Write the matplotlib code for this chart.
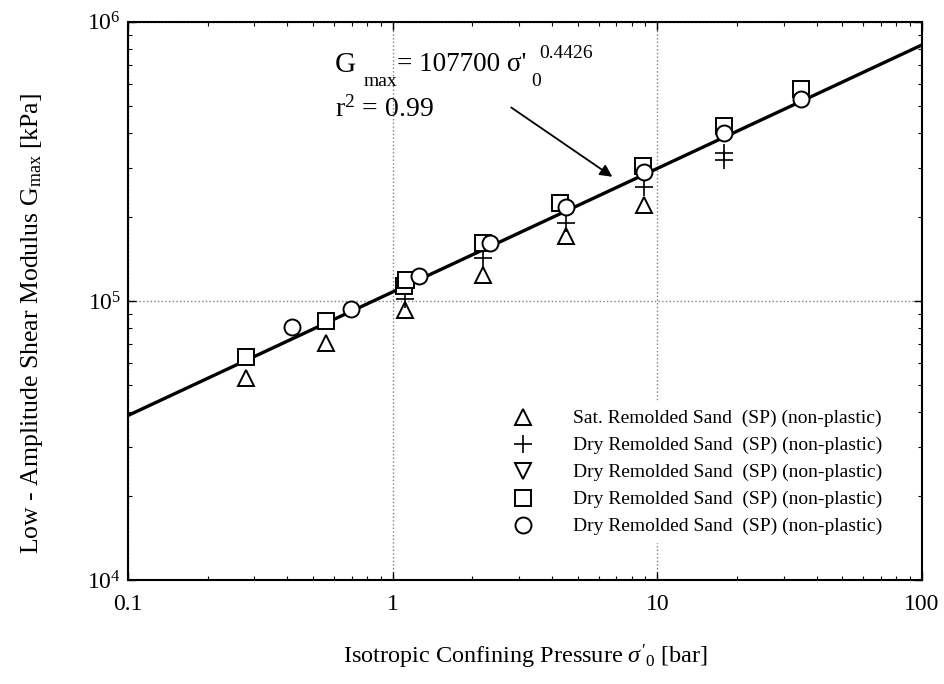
import numpy as np
import matplotlib
matplotlib.use("Agg")
import matplotlib.pyplot as plt

plt.rcParams['font.family'] = ['Liberation Serif', 'DejaVu Serif']
plt.rcParams['mathtext.fontset'] = 'custom'
plt.rcParams['mathtext.rm'] = 'Liberation Serif'
plt.rcParams['mathtext.it'] = 'Liberation Serif:italic'

# datos
labels = ["Sat. Remolded Sand  (SP) (non-plastic)",
          "Dry Remolded Sand  (SP) (non-plastic)",
          "Dry Remolded Sand  (SP) (non-plastic)",
          "Dry Remolded Sand  (SP) (non-plastic)",
          "Dry Remolded Sand  (SP) (non-plastic)"]

# triangulos (saturada)
s_tri = [0.28, 0.56, 1.11, 2.2, 4.5, 8.9]
g_tri = [53000, 70700, 93000, 124000, 171000, 221000]

# cruces
s_plus = [1.11, 2.2, 4.5, 8.9, 17.8, 17.8]
g_plus = [102000, 142000, 191000, 257000, 320000, 340000]

# triangulos invertidos (sin puntos visibles)
s_inv = []
g_inv = []

# cuadrados
s_sq = [0.28, 0.56, 1.1, 1.12, 2.2, 4.3, 8.8, 17.8, 34.9]
g_sq = [63000, 85000, 113000, 119000, 161000, 224000, 305000, 422000, 574000]

# circulos
s_ci = [0.415, 0.695, 1.26, 2.34, 4.53, 8.9, 17.8, 34.9]
g_ci = [80500, 93600, 123000, 161000, 218000, 291000, 401000, 528000]

# ajuste G = A s^b
A = 107700
b = 0.4426

fig = plt.figure(figsize=(9.44, 6.84), dpi=100)
ax = fig.add_axes([0.1356, 0.152, 0.841, 0.816])

x = np.logspace(-1, 2, 200)
ax.plot(x, A*x**b, color="black", lw=2.4, zorder=2)

ms = 11.5
ax.plot(s_tri, g_tri, ls="none", marker="^", ms=ms, mfc="white", mec="black", mew=1.4, label=labels[0], zorder=3)
ax.plot(s_plus, g_plus, ls="none", marker="+", ms=ms+1, mec="black", mew=1.2, label=labels[1], zorder=3)
ax.plot(s_inv, g_inv, ls="none", marker="v", ms=ms, mfc="white", mec="black", mew=1.4, label=labels[2], zorder=3)
ax.plot(s_sq, g_sq, ls="none", marker="s", ms=ms, mfc="white", mec="black", mew=1.4, label=labels[3], zorder=3)
ax.plot(s_ci, g_ci, ls="none", marker="o", ms=ms, mfc="white", mec="black", mew=1.4, label=labels[4], zorder=4)

ax.set_xscale("log")
ax.set_yscale("log")
ax.set_xlim(0.1, 100)
ax.set_ylim(1e4, 1e6)

ax.set_xticks([0.1, 1, 10, 100])
ax.set_xticklabels(["0.1", "1", "10", "100"])
ax.set_yticks([1e4, 1e5, 1e6])
ax.set_yticklabels([r"$10^4$", r"$10^5$", r"$10^6$"])
ax.tick_params(which="both", direction="in", top=True, right=True, labelsize=17)
ax.tick_params(axis="x", pad=10)
ax.tick_params(axis="y", pad=5)
ax.tick_params(which="major", length=6, width=1)
ax.tick_params(which="minor", length=3, width=0.8)
ax.grid(True, which="major", ls=":", color="gray", lw=1)
for sp in ax.spines.values():
    sp.set_linewidth(1.5)

ax.set_xlabel(r"Isotropic Confining Pressure $\it{\sigma}'_{0}$ [bar]", fontsize=17.5, labelpad=20)
ax.set_ylabel(r"Low - Amplitude Shear Modulus G$_{\rm max}$ [kPa]", fontsize=18.5)
ax.yaxis.set_label_coords(-0.104, 0.46)

# ecuacion del ajuste, por partes
tr = ax.transAxes
ax.text(0.2607, 0.923, "G", transform=tr, fontsize=21, va="center", ha="left")
ax.text(0.297, 0.8925, "max", transform=tr, fontsize=14, va="center", ha="left")
ax.text(0.3388, 0.923, "= 107700 σ'", transform=tr, fontsize=19.5, va="center", ha="left")
ax.text(0.508, 0.8925, "0", transform=tr, fontsize=14, va="center", ha="left")
ax.text(0.518, 0.944, "0.4426", transform=tr, fontsize=14, va="center", ha="left")
ax.text(0.2607, 0.843, r"r$^{2}$ = 0.99", transform=tr, fontsize=20, va="center", ha="left")
ax.annotate("", xy=(6.9, 2.75e5), xytext=(2.75, 5.0e5),
            arrowprops=dict(arrowstyle="-|>", color="black", lw=1.3, mutation_scale=18))

leg = ax.legend(loc="lower right", bbox_to_anchor=(0.96, 0.066), frameon=True, fontsize=14,
                labelspacing=0.48, handletextpad=1.6, borderaxespad=0)
leg.get_frame().set_facecolor("white")
leg.get_frame().set_edgecolor("none")
leg.get_frame().set_alpha(1)

fig.savefig("out.png", dpi=100)
